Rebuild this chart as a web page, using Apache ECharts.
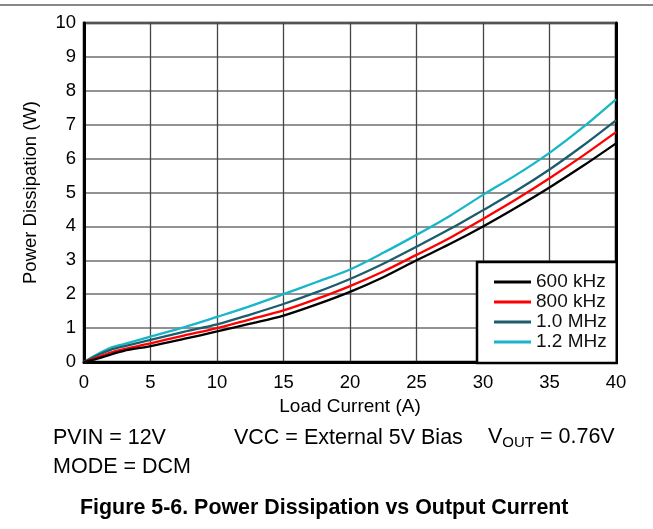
<!DOCTYPE html>
<html>
<head>
<meta charset="utf-8">
<script src="https://cdn.jsdelivr.net/npm/echarts@6/dist/echarts.min.js"></script>
<style>
html,body{margin:0;padding:0;background:#fff;}
#c{width:653px;height:529px;}
</style>
</head>
<body>
<div id="c"></div>
<script>
// Load current (A)
const current = [0, 1, 2, 3, 5, 7.5, 10, 12.5, 15, 17.5, 20, 22.5, 25, 27.5, 30, 32.5, 35, 37.5, 40];
// Power dissipation (W)
const p600k = [0, 0.10, 0.22, 0.33, 0.47, 0.68, 0.90, 1.13, 1.37, 1.70, 2.07, 2.50, 3.00, 3.48, 4.00, 4.56, 5.15, 5.78, 6.45];
const p800k = [0, 0.14, 0.28, 0.38, 0.55, 0.78, 1.00, 1.26, 1.52, 1.86, 2.24, 2.67, 3.16, 3.66, 4.22, 4.80, 5.42, 6.08, 6.78];
const p1000k = [0, 0.20, 0.36, 0.46, 0.65, 0.89, 1.11, 1.40, 1.71, 2.06, 2.45, 2.90, 3.40, 3.92, 4.48, 5.05, 5.68, 6.38, 7.13];
const p1200k = [0, 0.23, 0.42, 0.53, 0.75, 1.02, 1.33, 1.65, 2.00, 2.36, 2.73, 3.22, 3.75, 4.31, 4.93, 5.52, 6.17, 6.92, 7.75];
const seriesNames = ['600 kHz', '800 kHz', '1.0 MHz', '1.2 MHz'];
const seriesColors = ['#000000', '#ff0000', '#1b5d6d', '#17b6c8'];
const seriesData = [p600k, p800k, p1000k, p1200k];

const FONT = 'Liberation Sans, Arial, sans-serif';
const chart = echarts.init(document.getElementById('c'), null, {renderer: 'canvas'});

const series = seriesNames.map((n, i) => ({
  name: n,
  type: 'line',
  data: current.map((x, j) => [x, seriesData[i][j]]),
  smooth: 0.3,
  showSymbol: false,
  symbol: 'none',
  lineStyle: {color: seriesColors[i], width: 2.3},
  itemStyle: {color: seriesColors[i]},
  z: 3 + (3 - i)
}));

chart.setOption({
  animation: false,
  backgroundColor: '#fff',
  grid: {left: 84, right: 37, top: 23, bottom: 167, show: true, borderColor: '#000', borderWidth: 2.5, backgroundColor: 'transparent'},
  xAxis: {
    type: 'value', min: 0, max: 40, interval: 5,
    name: 'Load Current (A)', nameLocation: 'middle', nameGap: 29,
    nameTextStyle: {fontFamily: FONT, fontSize: 19, color: '#000'},
    axisLine: {show: true, onZero: false, lineStyle: {color: '#000', width: 3}},
    axisTick: {show: false},
    axisLabel: {fontFamily: FONT, fontSize: 18.5, color: '#000', margin: 11},
    splitLine: {show: true, lineStyle: {color: '#444', width: 1.3}}
  },
  yAxis: [{
    type: 'value', min: 0, max: 10, interval: 1,
    name: 'Power Dissipation (W)', nameLocation: 'middle', nameGap: 44,
    nameTextStyle: {fontFamily: FONT, fontSize: 18.5, color: '#000'},
    axisLine: {show: true, lineStyle: {color: '#000', width: 3}},
    axisTick: {show: false},
    axisLabel: {fontFamily: FONT, fontSize: 18.5, color: '#000', margin: 8},
    splitLine: {show: true, lineStyle: {color: '#6e6e6e', width: 1.5}}
  }, {
    type: 'value', min: 0, max: 10, interval: 1, position: 'right',
    axisLine: {show: true, lineStyle: {color: '#000', width: 3}},
    axisTick: {show: false}, axisLabel: {show: false}, splitLine: {show: false}
  }],
  legend: {
    data: seriesNames,
    orient: 'vertical',
    left: 477, top: 262,
    padding: [10, 10, 11, 17],
    itemGap: 0,
    itemWidth: 37, itemHeight: 3,
    icon: 'rect',
    itemStyle: {borderWidth: 0},
    textStyle: {fontFamily: FONT, fontSize: 19, color: '#111', lineHeight: 20},
    backgroundColor: '#fff',
    borderColor: '#000', borderWidth: 2.5, borderRadius: 0,
    z: 10
  },
  graphic: [
    {type: 'line', shape: {x1: 0, y1: 5, x2: 653, y2: 5}, style: {stroke: '#888', lineWidth: 2}},
    {type: 'text', left: 53, top: 427, style: {text: 'PVIN = 12V', font: '21.5px ' + FONT, fill: '#000'}},
    {type: 'text', left: 234, top: 427, style: {text: 'VCC = External 5V Bias', font: '21.5px ' + FONT, fill: '#000'}},
    {type: 'text', left: 488, top: 426, style: {
      text: '{a|V}{b|OUT}{a| = 0.76V}',
      rich: {
        a: {fontFamily: FONT, fontSize: 21.5, lineHeight: 26, color: '#000'},
        b: {fontFamily: FONT, fontSize: 15, lineHeight: 15, verticalAlign: 'bottom', color: '#000'}
      }
    }},
    {type: 'text', left: 53, top: 456, style: {text: 'MODE = DCM', font: '21.5px ' + FONT, fill: '#000'}},
    {type: 'text', left: 80, top: 498, style: {text: 'Figure 5-6. Power Dissipation vs Output Current', font: 'bold 21.4px ' + FONT, fill: '#000'}}
  ],
  series: series
});
</script>
</body>
</html>
